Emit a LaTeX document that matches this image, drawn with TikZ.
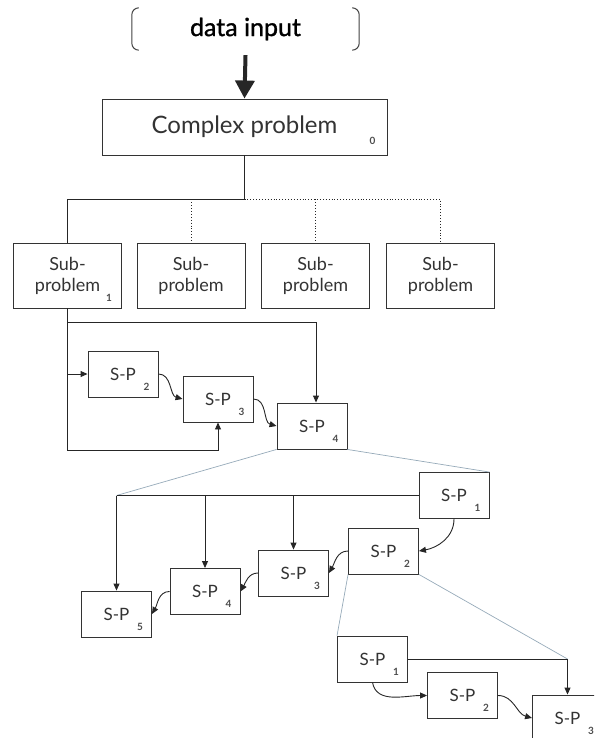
\documentclass[tikz,border=0pt]{standalone}
\usepackage{fontspec}
\setmainfont{Lato}
\newfontfamily\dinfont{Lato}[FakeBold=1.2]
\usepackage{tikz}
\usetikzlibrary{arrows.meta,calc,positioning}
\definecolor{splitgray}{RGB}{150,170,185}

\begin{document}
\begin{tikzpicture}[x=1pt,y=1pt,>={Triangle[length=7pt,width=6pt]},
	box/.style={draw=black!80,line width=0.9pt,inner sep=0pt,text=black!80},
	spbox/.style={box,minimum width=70pt,minimum height=46pt,font=\fontsize{17}{20}\selectfont},
	subbox/.style={box,minimum width=108pt,minimum height=65pt,align=center,font=\fontsize{18}{21}\selectfont},
	idx/.style={font=\fontsize{10}{11}\selectfont\bfseries,text=black!70,inner sep=0pt},
	link/.style={draw=black!85,line width=0.9pt},
	split/.style={draw=splitgray,line width=0.7pt}]
		\useasboundingbox (0,0) rectangle (594,-738);
		\clip (0,0) rectangle (594,-738);

		% input and main problem
		\node[minimum width=227pt,minimum height=42pt,inner sep=0pt,font=\dinfont\fontsize{25}{28}\selectfont] (din) at (245.5,-29) {data input};
		\draw[line width=1pt,black!75,rounded corners=7pt] ([xshift=7pt]din.north west) -- (din.north west) -- (din.south west) -- ([xshift=7pt]din.south west); \draw[line width=1pt,black!75,rounded corners=7pt] ([xshift=-7pt]din.north east) -- (din.north east) -- (din.south east) -- ([xshift=-7pt]din.south east);
		\node[box,minimum width=285pt,minimum height=56pt,font=\fontsize{24}{28}\selectfont] (cp) at (244.5,-127) {Complex problem}; \node[idx] at ($(cp.south east)+(-15,15)$) {0};
		\draw[line width=4pt,black!85,-{Triangle[length=18pt,width=19pt]}] ([yshift=-5pt]din.south) -- (cp.north);

		% sub-problems
		\node[subbox] (sub1) at (67.5,-275.5) {Sub-\\problem}; \node[idx] at ($(sub1.south east)+(-13,11)$) {1};
		\node[subbox] (sub2) at (191,-275.5) {Sub-\\problem};
		\node[subbox] (sub3) at (315.5,-275.5) {Sub-\\problem};
		\node[subbox] (sub4) at (440.5,-275.5) {Sub-\\problem};
		\coordinate (jn) at ($(cp.south)+(0,-44)$);
		\draw[link] (cp.south) -- (jn) -| (sub1.north); \draw[link,dotted,line width=0.6pt] (jn) -| (sub4.north); \draw[link,dotted,line width=0.6pt] (sub2.north |- jn) -- (sub2.north); \draw[link,dotted,line width=0.6pt] (sub3.north |- jn) -- (sub3.north);

		% first split
		\node[spbox] (spa2) at (123,-374) {S-P\hspace{9pt}}; \node[idx] at ($(spa2.south east)+(-12,11)$) {2};
		\node[spbox] (spa3) at (218,-399) {S-P\hspace{9pt}}; \node[idx] at ($(spa3.south east)+(-12,11)$) {3};
		\node[spbox] (spa4) at (312,-426) {S-P\hspace{9pt}}; \node[idx] at ($(spa4.south east)+(-12,11)$) {4};
		\coordinate (lpt) at ($(sub1.south)+(0,-14)$); \coordinate (lpb) at ($(sub1.south)+(0,-142)$);
		\draw[link,->] (sub1.south) -- (lpb) -| (spa3.south); \draw[link,->] (sub1.south |- spa2.west) -- (spa2.west); \draw[link,->] (lpt) -| ([xshift=4pt]spa4.north);
		\draw[link,->] (spa2.east) to[out=0,in=165] (spa3.west); \draw[link,->] (spa3.east) to[out=0,in=165] (spa4.west);

		% second split
		\node[spbox] (spb1) at (454,-495.5) {S-P\hspace{9pt}}; \node[idx] at ($(spb1.south east)+(-12,11)$) {1};
		\node[spbox] (spb2) at (383.5,-551) {S-P\hspace{9pt}}; \node[idx] at ($(spb2.south east)+(-12,11)$) {2};
		\node[spbox] (spb3) at (293.5,-573) {S-P\hspace{9pt}}; \node[idx] at ($(spb3.south east)+(-12,11)$) {3};
		\node[spbox] (spb4) at (205,-591.5) {S-P\hspace{9pt}}; \node[idx] at ($(spb4.south east)+(-12,11)$) {4};
		\node[spbox] (spb5) at (116.5,-614) {S-P\hspace{9pt}}; \node[idx] at ($(spb5.south east)+(-12,11)$) {5};
		\coordinate (hb) at (spb5.north |- spb1.west);
		\draw[split] (spa4.south west) -- (hb); \draw[split] (spa4.south east) -- (spb1.north east);
		\draw[link] (spb1.west) -- (hb); \draw[link,->] (hb) -- (spb5.north); \draw[link,->] (spb4.north |- hb) -- (spb4.north); \draw[link,->] (spb3.north |- hb) -- (spb3.north);
		\draw[link,->] (spb1.south) to[out=-90,in=10] (spb2.east); \draw[link,->] (spb2.west) to[out=180,in=60] (spb3.east); \draw[link,->] (spb3.west) to[out=180,in=60] (spb4.east); \draw[link,->] (spb4.west) to[out=180,in=60] (spb5.east);

		% third split
		\node[spbox] (spc1) at (372.5,-659) {S-P\hspace{9pt}}; \node[idx] at ($(spc1.south east)+(-12,11)$) {1};
		\node[spbox] (spc2) at (462.5,-695.5) {S-P\hspace{9pt}}; \node[idx] at ($(spc2.south east)+(-12,11)$) {2};
		\node[spbox] (spc3) at (567.5,-718) {S-P\hspace{9pt}}; \node[idx] at ($(spc3.south east)+(-12,11)$) {3};
		\coordinate (hc) at (spc3.north |- spc1.east);
		\draw[split] (spb2.south west) -- (spc1.north west); \draw[split] (spb2.south east) -- (hc);
		\draw[link] (spc1.east) -- (hc); \draw[link,->] (hc) -- (spc3.north);
		\draw[link,->] (spc1.south) to[out=-80,in=180] (spc2.west); \draw[link,->] (spc2.east) to[out=0,in=165] (spc3.west);
\end{tikzpicture}
\end{document}
